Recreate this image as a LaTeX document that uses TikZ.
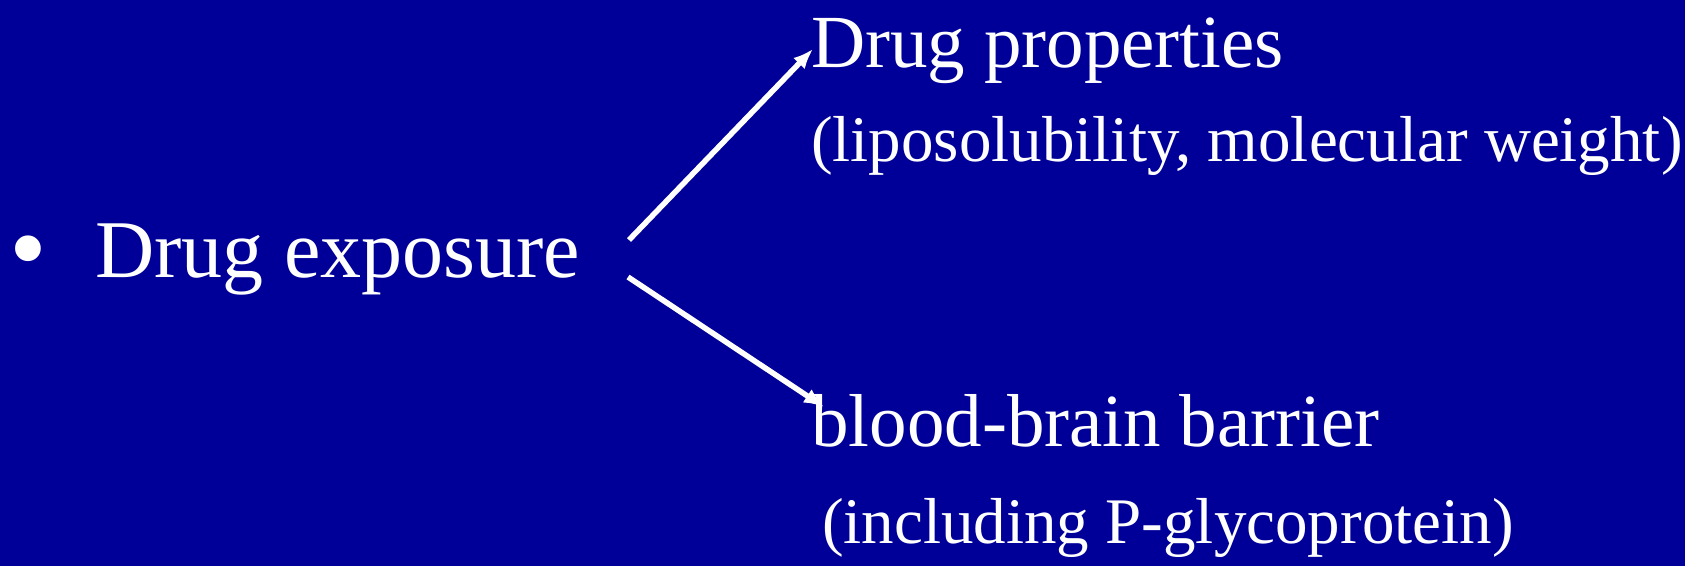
\documentclass[tikz,border=0pt]{standalone}
\usepackage{fontspec}
\setmainfont{Liberation Serif}
\usetikzlibrary{arrows.meta}
\definecolor{slideblue}{RGB}{0,0,153}
\begin{document}
\begin{tikzpicture}[x=1pt,y=-1pt,
bigtext/.style={text=white,inner sep=0pt,anchor=base west,font=\fontsize{82}{90}\selectfont},
headtext/.style={bigtext,font=\fontsize{75}{82}\selectfont},
subtext/.style={bigtext,font=\fontsize{65}{72}\selectfont},
arr/.style={draw=white,line width=5.5pt,-{Latex[length=20pt,width=16pt]}}]

\fill[slideblue] (0,0) rectangle (1685,566);

\draw (9,284) node[bigtext,font=\fontsize{108}{110}\selectfont] (bul) {\textbullet};
\draw (95,277) node[bigtext] (expo) {Drug exposure};
\draw (811,67) node[headtext] (prop) {Drug properties};
\draw (811,161) node[subtext] (propsub) {(liposolubility, molecular weight)};
\draw (811,446) node[headtext] (bbb) {blood-brain barrier};
\draw (822,543) node[subtext] (bbbsub) {(including P-glycoprotein)};

\coordinate (fork1) at (629,240);
\coordinate (fork2) at (628,277);
\coordinate (tip1) at (813,49);
\coordinate (tip2) at (824,407);

\draw[arr] (fork1) -- (tip1);
\draw[arr] (fork2) -- (tip2);

\end{tikzpicture}
\end{document}
